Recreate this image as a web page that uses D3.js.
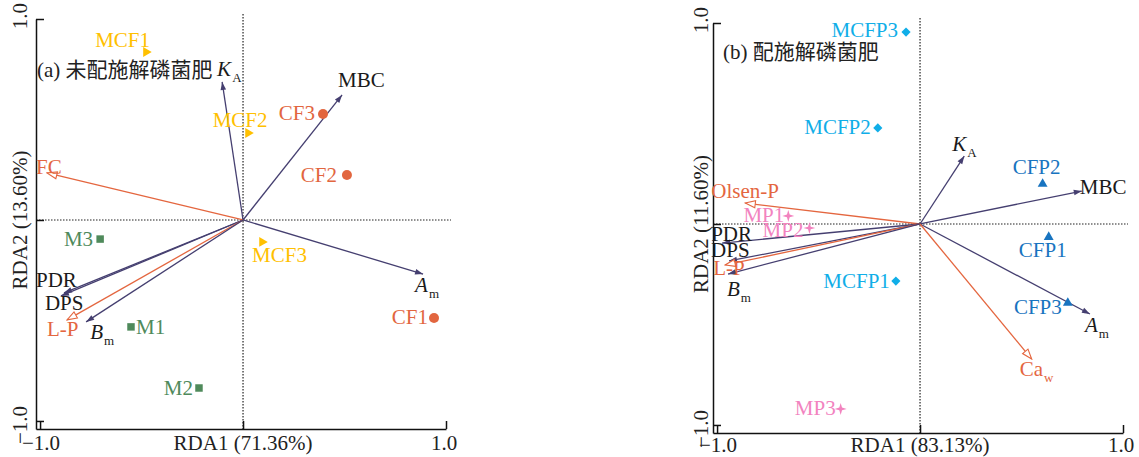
<!DOCTYPE html>
<html>
<head>
<meta charset="utf-8">
<script src="https://cdn.jsdelivr.net/npm/d3@7"></script>
<style>
body { margin: 0; background: #fff; }
text { font-family: "Liberation Serif", "Noto Sans CJK SC", serif; }
</style>
</head>
<body>
<script>
// ---- panel (a) data ----
var titleA = "(a) 未配施解磷菌肥";
var xTitleA = "RDA1 (71.36%)", yTitleA = "RDA2 (13.60%)";
var sitesA = ["MCF1", "MCF2", "MCF3", "CF1", "CF2", "CF3", "M1", "M2", "M3"];
var siteGroupA = ["MCF", "MCF", "MCF", "CF", "CF", "CF", "M", "M", "M"];
var siteXA = [-0.478, 0.025, 0.094, 0.941, 0.512, 0.394, -0.552, -0.217, -0.704];
var siteYA = [0.836, 0.433, -0.109, -0.488, 0.224, 0.527, -0.532, -0.836, -0.095];
var envA = ["KA", "MBC", "FC", "Am", "PDR", "DPS", "L-P", "Bm"];
var envKindA = ["bio", "bio", "p", "bio", "bio", "bio", "p", "bio"];
var envXA = [-0.103, 0.488, -0.966, 0.887, -0.882, -0.897, -0.867, -0.773];
var envYA = [0.687, 0.622, 0.234, -0.269, -0.363, -0.378, -0.497, -0.507];

// ---- panel (b) data ----
var titleB = "(b) 配施解磷菌肥";
var xTitleB = "RDA1 (83.13%)", yTitleB = "RDA2 (11.60%)";
var sitesB = ["CFP1", "CFP2", "CFP3", "MCFP1", "MCFP2", "MCFP3", "MP1", "MP2", "MP3"];
var siteGroupB = ["CFP", "CFP", "CFP", "MCFP", "MCFP", "MCFP", "MP", "MP", "MP"];
var siteXB = [0.634, 0.604, 0.728, -0.119, -0.208, -0.069, -0.649, -0.545, -0.391];
var siteYB = [-0.065, 0.199, -0.393, -0.284, 0.478, 0.955, 0.040, -0.020, -0.920];
var envB = ["KA", "MBC", "Olsen-P", "PDR", "DPS", "L-P", "Bm", "Am", "Caw"];
var envKindB = ["bio", "bio", "p", "bio", "bio", "p", "bio", "bio", "p"];
var envXB = [0.218, 0.797, -0.861, -0.975, -0.941, -0.960, -0.946, 0.837, 0.550];
var envYB = [0.338, 0.164, 0.104, -0.095, -0.184, -0.204, -0.249, -0.448, -0.672];

var tickValues = [-1, 0, 1];
var tickLabels = ["−1.0", "", "1.0"];

// label text: [main, subscript, italic]
var envText = {
  "KA": ["K", "A", true], "Am": ["A", "m", true], "Bm": ["B", "m", true],
  "Caw": ["Ca", "w", false]
};

var colors = {
  MCF: "#ffc000", CF: "#e2663f", M: "#4f8a5b",
  CFP: "#1874c0", MCFP: "#10aee8", MP: "#f283bf",
  bio: "#453f70", p: "#e4663f"
};
var shapes = {MCF: "triR", CF: "circle", M: "square", CFP: "triU", MCFP: "diamond", MP: "star"};

// label placement [dx, dy, anchor]
var siteLabA = {
  MCF1: [4, -5, "end"], MCF2: [-8, -6, "middle"], MCF3: [-10, 20, "start"],
  CF1: [-6, 6, "end"], CF2: [-10, 7, "end"], CF3: [-8, 6, "end"],
  M1: [5, 7, "start"], M2: [-6, 7, "end"], M3: [-7, 7, "end"]
};
var envLabA = {
  KA: [-5, -6, "start"], MBC: [-4, -8, "start"], FC: [-11, 1, "start"], Am: [-8, 18, "start"],
  PDR: [-28, -6, "start"], DPS: [-16, 14, "start"], "L-P": [-20, 16, "start"], Bm: [4, 17, "start"]
};
var siteLabB = {
  CFP1: [-6, 20, "middle"], CFP2: [-6, -10, "middle"], CFP3: [-6, 11, "end"],
  MCFP1: [-6, 7, "end"], MCFP2: [-7, 6, "end"], MCFP3: [-8, 5, "end"],
  MP1: [-4, 6, "end"], MP2: [-6, 9, "end"], MP3: [-5, 6, "end"]
};
var envLabB = {
  KA: [-12, -5, "start"], MBC: [-2, 3, "start"], "Olsen-P": [-34, -5, "start"],
  PDR: [-11, -2, "start"], DPS: [-18, -4, "start"], "L-P": [-12, 10, "start"],
  Bm: [-1, 22, "start"], Am: [-5, 18, "start"], Caw: [-12, 17, "start"]
};

var svg = d3.select("body").append("svg")
  .attr("width", 1139).attr("height", 457);

var defs = svg.append("defs");
defs.append("marker").attr("id", "headBio")
  .attr("markerUnits", "userSpaceOnUse").attr("viewBox", "0 -5 10 10")
  .attr("refX", 10).attr("refY", 0).attr("markerWidth", 10).attr("markerHeight", 8)
  .attr("orient", "auto")
  .append("path").attr("d", "M0,-3.5L10,0L0,3.5Z").attr("fill", colors.bio);
defs.append("marker").attr("id", "headP")
  .attr("markerUnits", "userSpaceOnUse").attr("viewBox", "-1 -5 12 10")
  .attr("refX", 10).attr("refY", 0).attr("markerWidth", 12).attr("markerHeight", 10)
  .attr("orient", "auto")
  .append("path").attr("d", "M0,-3.5L10,0L0,3.5Z")
  .attr("fill", "#fff").attr("stroke", colors.p).attr("stroke-width", 1.1);

function starPath(r) {
  var p = d3.path(), ri = r * 0.32;
  for (var i = 0; i < 8; i++) {
    var a = i * Math.PI / 4 - Math.PI / 2, rr = i % 2 ? ri : r;
    if (i === 0) p.moveTo(rr * Math.cos(a), rr * Math.sin(a));
    else p.lineTo(rr * Math.cos(a), rr * Math.sin(a));
  }
  p.closePath();
  return p.toString();
}

function drawPanel(cfg) {
  var x = d3.scaleLinear().domain([-1.02, 1]).range(cfg.xr);
  var y = d3.scaleLinear().domain([-1.04, 1]).range(cfg.yr);
  var g = svg.append("g");
  var x0 = x(0), y0 = y(0);

  // dotted zero lines
  g.append("line").attr("x1", x0).attr("x2", x0).attr("y1", cfg.yr[1] - 5).attr("y2", cfg.yr[0])
    .attr("stroke", "#222").attr("stroke-width", 1.2).attr("stroke-dasharray", "1.5,1.5");
  g.append("line").attr("x1", cfg.xr[0]).attr("x2", cfg.xr[1] + 5).attr("y1", y0).attr("y2", y0)
    .attr("stroke", "#222").attr("stroke-width", 1.2).attr("stroke-dasharray", "1.5,1.5");

  // axes with inward ticks
  var ax = g.append("g").attr("transform", "translate(0," + cfg.yr[0] + ")")
    .call(d3.axisBottom(x).tickValues(tickValues).tickSizeInner(-8).tickSizeOuter(0).tickFormat(""));
  var ay = g.append("g").attr("transform", "translate(" + cfg.xr[0] + ",0)")
    .call(d3.axisLeft(y).tickValues(tickValues).tickSizeInner(-8).tickSizeOuter(0).tickFormat(""));
  [ax, ay].forEach(function(a) {
    a.selectAll("path,line").attr("stroke", "#111").attr("stroke-width", 1.5);
  });

  // tick labels
  var by = cfg.yr[0] + cfg.bot;
  tickValues.forEach(function(v, i) {
    if (!tickLabels[i]) return;
    g.append("text").attr("x", x(v) + (v < 0 ? 1 : -2)).attr("y", by)
      .attr("text-anchor", "middle").attr("font-size", 21).attr("fill", "#222").text(tickLabels[i]);
    var ty = y(v) + (v < 0 ? 4 : -3);
    g.append("text").attr("transform", "translate(" + (cfg.xr[0] - cfg.lab) + "," + ty + ") rotate(-90)")
      .attr("text-anchor", "middle").attr("font-size", 21).attr("fill", "#222").text(tickLabels[i]);
  });
  g.append("text").attr("x", x0).attr("y", by)
    .attr("text-anchor", "middle").attr("font-size", 21).attr("fill", "#222").text(cfg.xTitle);
  g.append("text").attr("transform", "translate(" + (cfg.xr[0] - cfg.lab) + "," + y0 + ") rotate(-90)")
    .attr("text-anchor", "middle").attr("font-size", 21).attr("fill", "#222").text(cfg.yTitle);

  // panel title
  g.append("text").attr("x", cfg.tx).attr("y", cfg.ty)
    .attr("font-size", 21).attr("fill", "#222").text(cfg.title);

  // env arrows
  var envData = cfg.env.map(function(n, i) {
    return {name: n, kind: cfg.kind[i], x: cfg.ex[i], y: cfg.ey[i]};
  });
  g.append("g").selectAll("line").data(envData).join("line")
    .attr("x1", x0).attr("y1", y0)
    .attr("x2", d => x(d.x)).attr("y2", d => y(d.y))
    .attr("stroke", d => colors[d.kind]).attr("stroke-width", 1.3)
    .attr("marker-end", d => d.kind === "p" ? "url(#headP)" : "url(#headBio)");

  envData.forEach(function(d) {
    var pos = cfg.envLab[d.name];
    var t = g.append("text").attr("x", x(d.x) + pos[0]).attr("y", y(d.y) + pos[1])
      .attr("text-anchor", pos[2]).attr("font-size", 21)
      .attr("fill", d.kind === "p" ? colors.p : "#1a1a1a");
    var lt = envText[d.name];
    if (lt) {
      t.append("tspan").attr("font-style", lt[2] ? "italic" : null).text(lt[0]);
      t.append("tspan").attr("font-size", 13).attr("dx", 1).attr("dy", 6).text(lt[1]);
    } else {
      t.text(d.name);
    }
  });

  // sites
  var siteData = cfg.sites.map(function(n, i) {
    return {name: n, group: cfg.group[i], x: cfg.sx[i], y: cfg.sy[i]};
  });
  siteData.forEach(function(d) {
    var sx = x(d.x), sy = y(d.y), c = colors[d.group], sh = shapes[d.group];
    var p, rot = "";
    if (sh === "circle") p = g.append("circle").attr("r", 5);
    else if (sh === "star") p = g.append("path").attr("d", starPath(6));
    else if (sh === "square") p = g.append("path").attr("d", d3.symbol(d3.symbolSquare, 56)());
    else if (sh === "diamond") { p = g.append("path").attr("d", d3.symbol(d3.symbolSquare, 42)()); rot = " rotate(45)"; }
    else { p = g.append("path").attr("d", d3.symbol(d3.symbolTriangle, 42)()); if (sh === "triR") rot = " rotate(90)"; }
    if (sh === "circle") p.attr("cx", sx).attr("cy", sy);
    else p.attr("transform", "translate(" + sx + "," + sy + ")" + rot);
    p.attr("fill", c);
    var pos = cfg.siteLab[d.name];
    g.append("text").attr("x", sx + pos[0]).attr("y", sy + pos[1])
      .attr("text-anchor", pos[2]).attr("font-size", 21).attr("fill", c).text(d.name);
  });
}

drawPanel({
  xr: [36, 446], yr: [429, 19], lab: 9, bot: 21, tx: 37, ty: 77, title: titleA,
  xTitle: xTitleA, yTitle: yTitleA,
  sites: sitesA, group: siteGroupA, sx: siteXA, sy: siteYA, siteLab: siteLabA,
  env: envA, kind: envKindA, ex: envXA, ey: envYA, envLab: envLabA
});
drawPanel({
  xr: [713, 1123], yr: [433, 23], lab: 5, bot: 19, tx: 723, ty: 59, title: titleB,
  xTitle: xTitleB, yTitle: yTitleB,
  sites: sitesB, group: siteGroupB, sx: siteXB, sy: siteYB, siteLab: siteLabB,
  env: envB, kind: envKindB, ex: envXB, ey: envYB, envLab: envLabB
});
</script>
</body>
</html>
